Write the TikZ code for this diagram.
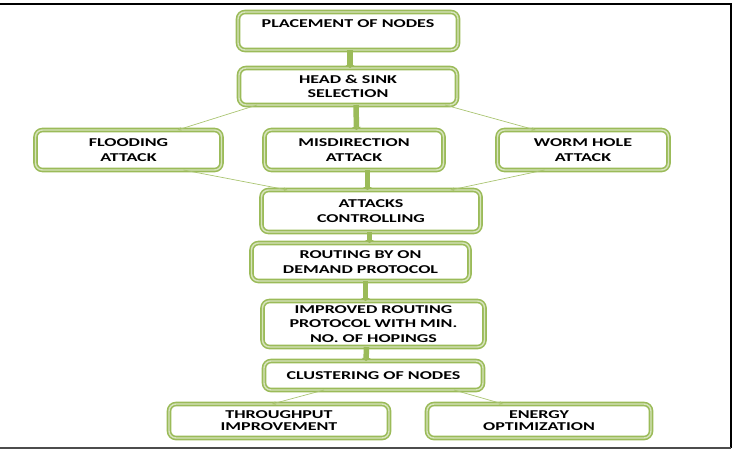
\documentclass[tikz,border=0pt]{standalone}
\usepackage{fontspec}
\newfontfamily\boxfont{Carlito}[FakeStretch=1.5]
\usetikzlibrary{positioning,arrows.meta}
\definecolor{boxgreen}{HTML}{9BBB59}
\definecolor{boxlight}{HTML}{D7E4BD}

\begin{document}
\begin{tikzpicture}[x=1pt,y=1pt,>=stealth,
  box/.style={draw=boxgreen,double=boxlight,line width=1.6pt,double distance=1.4pt,
    rounded corners=7pt,fill=white,align=center,inner sep=2pt,outer sep=0pt,
    font=\boxfont\bfseries\fontsize{12}{14.5}\selectfont,text=black},
  bigarrow/.style={draw=boxgreen,line width=5.5pt,-{Triangle[width=9pt,length=3pt]}},
  thinarrow/.style={draw=boxgreen!85,line width=0.7pt,->}]
  \useasboundingbox (0,0) rectangle (735,-450);
  \draw[line width=2pt] (0,-4) -- (731,-4) -- (731,-448);
  \draw[line width=2pt,black!70] (731,-448) -- (0,-448);

  \node (place) [box,minimum width=220pt,minimum height=38pt,text depth=14pt] at (348,-31) {PLACEMENT OF NODES};
  \node (head) [box,minimum width=218pt,minimum height=37pt,below=18pt of place] {HEAD \& SINK\\SELECTION};
  \node (misdir) [box,minimum width=179pt,minimum height=40pt,below=25pt of head,xshift=6pt] {MISDIRECTION\\ATTACK};
  \node (flood) [box,minimum width=186pt,minimum height=40pt,left=43pt of misdir] {FLOODING\\ATTACK};
  \node (worm) [box,minimum width=171pt,minimum height=40pt,right=54pt of misdir] {WORM HOLE\\ATTACK};
  \node (ctrl) [box,minimum width=219pt,minimum height=42pt,below=20pt of misdir,xshift=17pt] {ATTACKS\\CONTROLLING};
  \node (route) [box,minimum width=218pt,minimum height=38pt,below=11pt of ctrl,xshift=-10.5pt] {ROUTING BY ON\\DEMAND PROTOCOL};
  \node (improved) [box,minimum width=222pt,minimum height=46pt,below=20pt of route,xshift=13pt] {IMPROVED ROUTING\\PROTOCOL WITH MIN.\\NO. OF HOPINGS};
  \node (cluster) [box,minimum width=219pt,minimum height=29pt,below=14pt of improved] {CLUSTERING OF NODES};
  \node (through) [box,minimum width=220pt,minimum height=34pt,below=14pt of cluster,xshift=-94.5pt] {THROUGHPUT\\[-2.5pt]IMPROVEMENT};
  \node (energy) [box,minimum width=224pt,minimum height=34pt,right=38pt of through] {ENERGY\\[-2.5pt]OPTIMIZATION};

  \draw[bigarrow] ([xshift=2pt]place.south) -- ([xshift=2pt]head.north);
  \draw[bigarrow] ([xshift=8pt]head.south) -- ([xshift=2.5pt]misdir.north);
  \draw[thinarrow] ([xshift=-91pt]head.south) -- ([xshift=49pt]flood.north);
  \draw[thinarrow] ([xshift=97pt]head.south) -- ([xshift=-47.5pt]worm.north);
  \draw[bigarrow] ([xshift=13.5pt]misdir.south) -- ([xshift=-3.5pt]ctrl.north);
  \draw[thinarrow] ([xshift=55pt]flood.south) -- ([xshift=-83.5pt]ctrl.north);
  \draw[thinarrow] ([xshift=-38.5pt]worm.south) -- ([xshift=79.5pt]ctrl.north);
  \draw[bigarrow] ([xshift=-1.5pt]ctrl.south) -- ([xshift=9pt]route.north);
  \draw[bigarrow] ([xshift=5pt]route.south) -- ([xshift=-8pt]improved.north);
  \draw[bigarrow] ([xshift=-7pt]improved.south) -- ([xshift=-7.5pt]cluster.north);
  \draw[thinarrow] ([xshift=-49.5pt]cluster.south) -- ([xshift=-7pt]through.north);
  \draw[thinarrow] ([xshift=80.5pt]cluster.south) -- ([xshift=-36pt]energy.north);
\end{tikzpicture}
\end{document}
